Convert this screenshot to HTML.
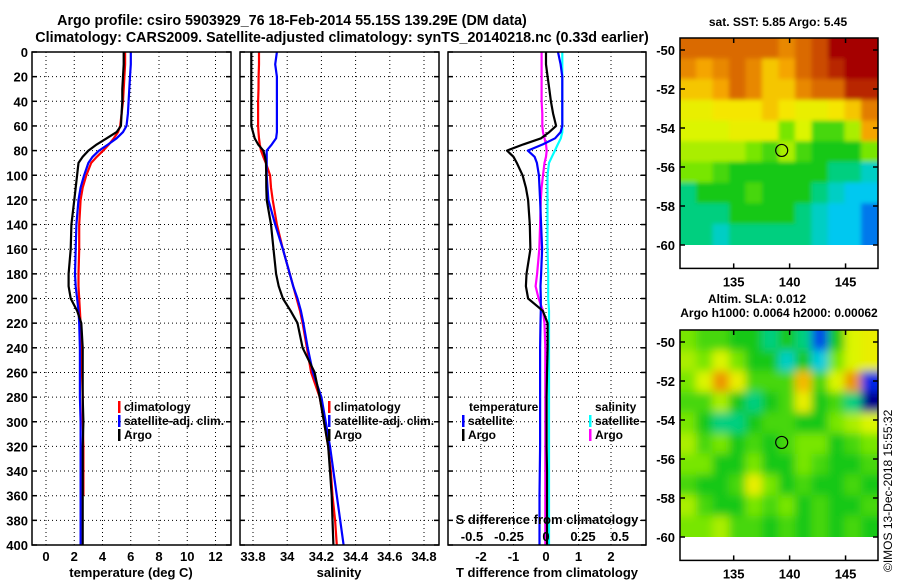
<!DOCTYPE html>
<html><head><meta charset="utf-8"><style>
body{margin:0;background:#fff}
svg{display:block;font-family:"Liberation Sans",sans-serif;font-weight:bold}
</style></head><body>
<svg id="c" width="900" height="580" viewBox="0 0 900 580" xmlns="http://www.w3.org/2000/svg">
<defs>
<filter id="blur" x="-0.2" y="-0.2" width="1.4" height="1.4"><feGaussianBlur stdDeviation="4.5"/></filter>
<filter id="blur2" x="-0.2" y="-0.2" width="1.4" height="1.4"><feGaussianBlur stdDeviation="2"/></filter>
<clipPath id="clipTop" clipPathUnits="userSpaceOnUse"><rect x="680" y="38" width="198" height="207"/></clipPath>
<clipPath id="clipBot" clipPathUnits="userSpaceOnUse"><rect x="680" y="330" width="198" height="207"/></clipPath>
</defs>
<text x="292" y="25" font-size="14.3" text-anchor="middle">Argo profile: csiro 5903929_76 18-Feb-2014 55.15S 139.29E (DM data)</text>
<text x="342" y="42" font-size="14.3" text-anchor="middle">Climatology: CARS2009. Satellite-adjusted climatology: synTS_20140218.nc (0.33d earlier)</text>
<g id="g"></g>
</svg>
<script>
// ---- data ----
const depths=[0,10,20,30,40,50,60,65,70,75,80,85,90,100,110,120,140,160,180,190,200,210,220,240,260,280,300,320,340,360,380,400];
const argoT=[5.5,5.5,5.45,5.4,5.4,5.35,5.3,5.0,4.3,3.6,3.0,2.6,2.3,2.2,2.1,2.0,1.8,1.75,1.6,1.6,1.75,2.2,2.5,2.6,2.6,2.6,2.65,2.6,2.6,2.6,2.6,2.6];
const climT=[5.6,5.6,5.55,5.5,5.45,5.35,5.25,5.1,4.8,4.45,4.05,3.6,3.2,2.85,2.6,2.45,2.35,2.35,2.3,2.3,2.35,2.4,2.45,2.5,2.55,2.6,2.6,2.65,2.65,2.65,null,null];
const satT=[6.0,6.0,5.95,5.9,5.85,5.8,5.7,5.45,5.0,4.4,3.75,3.3,3.0,2.7,2.45,2.3,2.15,2.1,2.05,2.1,2.2,2.3,2.35,2.4,2.4,2.4,2.45,2.45,2.45,2.45,2.45,2.45];
const argoS=[33.79,33.79,33.79,33.79,33.79,33.79,33.79,33.80,33.81,33.83,33.86,33.87,33.876,33.877,33.878,33.88,33.905,33.92,33.935,33.95,33.975,34.02,34.06,34.09,34.16,34.19,34.215,34.24,34.25,34.26,34.265,34.27];
const climS=[33.835,33.835,33.833,33.832,33.83,33.83,33.83,33.832,33.835,33.84,33.847,33.86,33.875,33.9,33.905,33.915,33.94,33.975,34.015,34.035,34.055,34.075,34.09,34.115,34.14,34.19,34.215,34.24,34.255,34.265,34.28,34.29];
const satS=[33.94,33.93,33.94,33.94,33.94,33.94,33.94,33.94,33.935,33.91,33.88,33.88,33.88,33.88,33.885,33.89,33.93,33.975,34.015,34.035,34.06,34.08,34.095,34.12,34.15,34.2,34.225,34.25,34.27,34.29,34.31,34.33];
const diffTArgo=[0,0,0.05,0.1,0.15,0.22,0.31,0.1,-0.15,-0.7,-1.2,-1.0,-0.9,-0.72,-0.62,-0.55,-0.5,-0.48,-0.6,-0.62,-0.55,-0.1,0.05,0.05,0.03,0.02,0.02,0.02,0.03,0.03,0.03,0.03];
const diffTSat=[0.37,0.45,0.5,0.5,0.5,0.5,0.5,0.45,0.28,-0.1,-0.56,-0.35,-0.28,-0.22,-0.2,-0.18,-0.15,-0.12,-0.15,-0.17,-0.16,-0.16,-0.17,-0.18,-0.18,-0.18,-0.18,-0.18,-0.19,-0.2,-0.2,-0.2];
const diffSSat=[0.11,0.11,0.11,0.11,0.11,0.11,0.11,0.11,0.1,0.08,0.06,0.04,0.02,0.01,0.01,0.01,0.01,0.01,0.015,0.015,0.015,0.02,0.02,0.02,0.02,0.02,0.02,0.02,0.02,0.02,0.02,0.02];
const diffSArgo=[-0.03,-0.03,-0.03,-0.03,-0.03,-0.025,-0.025,-0.02,-0.01,0.0,0.005,0.0,-0.01,-0.02,-0.03,-0.035,-0.04,-0.045,-0.06,-0.07,-0.05,-0.02,-0.01,-0.005,-0.005,-0.005,-0.005,-0.005,-0.005,-0.005,-0.005,-0.005];
const depthTicks=[0,20,40,60,80,100,120,140,160,180,200,220,240,260,280,300,320,340,360,380,400];
const tempTicks=[0,2,4,6,8,10,12];
const salTicks=[33.8,34,34.2,34.4,34.6,34.8];
const salTickLabels=["33.8","34","34.2","34.4","34.6","34.8"];
const dTTicks=[-2,-1,0,1,2];
const dSTicks=[-0.5,-0.25,0,0.25,0.5];
const latTicks=[-50,-52,-54,-56,-58,-60];
const lonTicks=[135,140,145];
const sstGrid=[
[0.85,0.85,0.85,0.85,0.85,0.85,0.8,0.85,0.9,1,1,1],
[0.8,0.75,0.8,0.85,0.8,0.7,0.75,0.85,0.9,0.95,1,1],
[0.7,0.7,0.75,0.85,0.8,0.7,0.7,0.8,0.85,0.85,0.95,0.95],
[0.6,0.6,0.65,0.65,0.65,0.7,0.65,0.6,0.6,0.65,0.7,0.82],
[0.55,0.55,0.55,0.6,0.6,0.6,0.45,0.55,0.4,0.4,0.5,0.75],
[0.5,0.5,0.5,0.5,0.45,0.4,0.5,0.4,0.35,0.35,0.35,0.45],
[0.45,0.45,0.4,0.35,0.35,0.35,0.35,0.35,0.35,0.3,0.3,0.25],
[0.3,0.35,0.35,0.35,0.4,0.35,0.35,0.35,0.3,0.25,0.2,0.2],
[0.3,0.3,0.3,0.35,0.35,0.35,0.35,0.3,0.25,0.2,0.2,0.15],
[0.3,0.3,0.25,0.3,0.3,0.3,0.3,0.3,0.25,0.2,0.2,0.15]];
const slaGrid=[
[0.45,0.4,0.4,0.35,0.35,0.3,0.35,0.3,0.12,0.35,0.55,0.6],
[0.5,0.45,0.55,0.45,0.35,0.35,0.25,0.35,0.22,0.45,0.55,0.6],
[0.45,0.55,0.78,0.6,0.4,0.4,0.4,0.72,0.4,0.55,0.78,0.1],
[0.4,0.4,0.5,0.35,0.3,0.35,0.4,0.6,0.35,0.4,0.3,0.0],
[0.45,0.35,0.3,0.3,0.35,0.4,0.4,0.35,0.35,0.45,0.5,0.55],
[0.5,0.4,0.45,0.35,0.4,0.35,0.4,0.45,0.45,0.35,0.4,0.45],
[0.45,0.45,0.35,0.35,0.45,0.35,0.35,0.45,0.4,0.35,0.35,0.4],
[0.4,0.35,0.35,0.4,0.6,0.45,0.35,0.4,0.35,0.35,0.4,0.35],
[0.5,0.4,0.35,0.35,0.45,0.4,0.45,0.35,0.4,0.35,0.35,0.4],
[0.45,0.45,0.5,0.4,0.4,0.35,0.4,0.35,0.4,0.35,0.4,0.35]];
const argoLon=139.29, argoLat=-55.15;

// ---- helpers ----
const NS="http://www.w3.org/2000/svg";
const G=document.getElementById('g');
function mk(tag,attrs,parent){const e=document.createElementNS(NS,tag);for(const k in attrs)e.setAttribute(k,attrs[k]);(parent||G).appendChild(e);return e;}
const depthY=d=>52+d*1.2325;
const tempX=t=>46+t*14.125;
const salX=s=>253+(s-33.8)*171;
const dTX=v=>546+v*32.5;
const dSX=v=>546+v*148;
const panels=[{x0:32,x1:231},{x0:240,x1:439},{x0:448,x1:646}];
const Y0=52,Y1=545;

function line(vals,xf,color,name){
  let d="";let started=false;
  vals.forEach((v,i)=>{if(v===null)return;d+=(started?"L":"M")+xf(v).toFixed(1)+","+depthY(depths[i]).toFixed(1);started=true;});
  const p=mk('path',{d:d,fill:'none',stroke:color,'stroke-width':2.2,'stroke-linejoin':'round'});
  
  
}
function text(x,y,s,opts,name){
  const t=mk('text',Object.assign({x:x,y:y,'font-size':12},opts||{}));t.textContent=s;
  
  
  return t;
}
function vgrid(p,xs,name){xs.forEach(x=>{const l=mk('line',{x1:x,x2:x,y1:Y0,y2:Y1,stroke:'#000','stroke-width':1,'stroke-dasharray':'1,3'});
  
  });}

panels.forEach((p,pi)=>{
  depthTicks.forEach(d=>{
    const y=depthY(d);
    const l=mk('line',{x1:p.x0,x2:p.x1,y1:y,y2:y,stroke:'#000','stroke-width':1,'stroke-dasharray':'1,3'});
    
    
    const t1=mk('line',{x1:p.x0,x2:p.x0+5,y1:y,y2:y,stroke:'#000','stroke-width':1.5});
    
    
    const t2=mk('line',{x1:p.x1-5,x2:p.x1,y1:y,y2:y,stroke:'#000','stroke-width':1.5});
    
    
  });
});
depthTicks.forEach(d=>text(28,depthY(d)+5,String(d),{'text-anchor':'end','font-size':13},'depth-tick-label'));

vgrid(panels[0],tempTicks.map(tempX),'temperature-gridline');
tempTicks.forEach(t=>text(tempX(t),561,String(t),{'text-anchor':'middle','font-size':13},'temperature-tick-label'));
text(131,577,'temperature (deg C)',{'text-anchor':'middle','font-size':13},'temperature-axis-title');
line(climT,tempX,'#f00','climatology-temperature-line');
line(satT,tempX,'#00f','satellite-temperature-line');
line(argoT,tempX,'#000','argo-temperature-line');

vgrid(panels[1],salTicks.map(salX),'salinity-gridline');
salTicks.forEach((s,i)=>text(salX(s),561,salTickLabels[i],{'text-anchor':'middle','font-size':13},'salinity-tick-label'));
text(339,577,'salinity',{'text-anchor':'middle','font-size':13},'salinity-axis-title');
line(climS,salX,'#f00','climatology-salinity-line');
line(satS,salX,'#00f','satellite-salinity-line');
line(argoS,salX,'#000','argo-salinity-line');

vgrid(panels[2],dTTicks.map(dTX),'t-difference-gridline');
dTTicks.forEach(v=>text(dTX(v),561,String(v),{'text-anchor':'middle','font-size':13},'t-difference-tick-label'));
text(547,577,'T difference from climatology',{'text-anchor':'middle','font-size':13},'t-difference-axis-title');
line(diffSSat,dSX,'#0ff','satellite-salinity-difference-line');
line(diffSArgo,dSX,'#f0f','argo-salinity-difference-line');
line(diffTSat,dTX,'#00f','satellite-temperature-difference-line');
line(diffTArgo,dTX,'#000','argo-temperature-difference-line');
dSTicks.forEach(v=>text(dSX(v),541,String(v),{'text-anchor':'middle','font-size':13},'s-difference-tick-label'));
text(547,524,'S difference from climatology',{'text-anchor':'middle','font-size':13},'s-difference-axis-title');

panels.forEach((p,i)=>{const r=mk('rect',{x:p.x0,y:Y0,width:p.x1-p.x0,height:Y1-Y0,fill:'none',stroke:'#000','stroke-width':1.5});
  
  });

function legend(x,y,color,label,name){
  const b=mk('rect',{x:x,y:y-10,width:2.5,height:12,fill:color});
  
  
  text(x+6,y,label,{'font-size':12},name);
}
legend(118,411,'#f00','climatology','legend-climatology');
legend(118,425,'#00f','satellite-adj. clim.','legend-satellite-adj');
legend(118,439,'#000','Argo','legend-argo');
legend(328,411,'#f00','climatology','legend-climatology-salinity');
legend(328,425,'#00f','satellite-adj. clim.','legend-satellite-adj-salinity');
legend(328,439,'#000','Argo','legend-argo-salinity');
text(469,411,'temperature',{'font-size':12},'legend-temperature-heading');
legend(462,425,'#00f','satellite','legend-temperature-satellite');
legend(462,439,'#000','Argo','legend-temperature-argo');
text(595,411,'salinity',{'font-size':12},'legend-salinity-heading');
legend(589,425,'#0ff','satellite','legend-salinity-satellite');
legend(589,439,'#f0f','Argo','legend-salinity-argo');

// ---- maps ----
const stops=[[0,[0,0,140]],[0.1,[0,40,230]],[0.2,[0,200,240]],[0.28,[0,210,170]],[0.35,[20,200,20]],[0.45,[120,230,0]],[0.55,[220,245,0]],[0.65,[245,230,0]],[0.75,[245,165,0]],[0.88,[210,90,0]],[1,[165,0,0]]];
function cmap(v){for(let i=1;i<stops.length;i++){if(v<=stops[i][0]){const a=stops[i-1],b=stops[i];const f=(v-a[0])/(b[0]-a[0]);const c=a[1].map((q,k)=>Math.round(q+(b[1][k]-q)*f));return 'rgb('+c.join(',')+')';}}return 'rgb(165,0,0)';}
function drawMap(top,grid,clip,filt,titleLines,name){
  const left=680,right=878,lon0=130.2,lon1=147.9;
  const lonX=l=>left+(l-lon0)*(right-left)/(lon1-lon0);
  const latY=la=>top+12+(-50-la)*19.5;
  const fTop=top, fBot=latY(-61.2);
  const grp=mk('g',{'clip-path':'url(#'+clip+')'});
  
  
  const inner=mk('g',{filter:'url(#'+filt+')'},grp);
  const rows=grid.length,cols=grid[0].length;
  const cy0=latY(-49.4), cy1=latY(-60);
  const cw=(right-left)/cols, ch=(cy1-cy0)/rows;
  const pad=20;
  grid.forEach((row,r)=>row.forEach((v,c)=>{
    let x=left+c*cw-0.5, y=cy0+r*ch-0.5, w=cw+1, h=ch+1;
    if(c===0){x-=pad;w+=pad;} if(c===cols-1){w+=pad;}
    if(r===0){y-=pad;h+=pad;} if(r===rows-1){h+=pad;}
    const cell=mk('rect',{x:x.toFixed(1),y:y.toFixed(1),width:w.toFixed(1),height:h.toFixed(1),fill:cmap(v)},inner);
    
    
  }));
  // white masks to keep blurred colour inside the frame
  [[left+1,cy1,right-left-2,fBot-cy1-1],[right+1,fTop-10,22,fBot-fTop+20],[left-25,fTop-10,24,fBot-fTop+20],[left,fTop-25,right-left,24]].forEach(m=>{
    const w=mk('rect',{x:m[0],y:m[1],width:m[2],height:m[3],fill:'#fff'});
    
    
  });
  const fr=mk('rect',{x:left,y:fTop,width:right-left,height:fBot-fTop,fill:'none',stroke:'#000','stroke-width':1.5});
  
  
  latTicks.forEach(la=>{const y=latY(la);
    const tk=mk('line',{x1:left,x2:left+5,y1:y,y2:y,stroke:'#000','stroke-width':1.5});
    
    
    const tk2=mk('line',{x1:right-5,x2:right,y1:y,y2:y,stroke:'#000','stroke-width':1.5});
    
    
    text(675,y+5,String(la),{'text-anchor':'end','font-size':13},name+'-lat-label');});
  lonTicks.forEach(lo=>{const x=lonX(lo);
    const tk=mk('line',{x1:x,x2:x,y1:fBot-5,y2:fBot,stroke:'#000','stroke-width':1.5});
    
    
    const tk2=mk('line',{x1:x,x2:x,y1:fTop,y2:fTop+5,stroke:'#000','stroke-width':1.5});
    
    
    text(x,fBot+18,String(lo),{'text-anchor':'middle','font-size':13},name+'-lon-label');});
  const c=mk('circle',{cx:lonX(argoLon),cy:latY(argoLat),r:6,fill:'none',stroke:'#000','stroke-width':1.2});
  
  
  titleLines.forEach((t,i)=>text(t[1],t[2],t[0],{'text-anchor':'middle','font-size':12},name+'-title'));
}
drawMap(38,sstGrid,'clipTop','blur2',[['sat. SST: 5.85 Argo: 5.45',778,26]],'sst-map');
drawMap(330,slaGrid,'clipBot','blur',[['Altim. SLA: 0.012',757,303],['Argo h1000: 0.0064 h2000: 0.00062',779,317]],'sla-map');
const cr=text(0,0,'©IMOS 13-Dec-2018 15:55:32',{'font-size':12,'font-weight':'normal',transform:'translate(892,572) rotate(-90)'},'copyright-timestamp');
</script>
</body></html>
